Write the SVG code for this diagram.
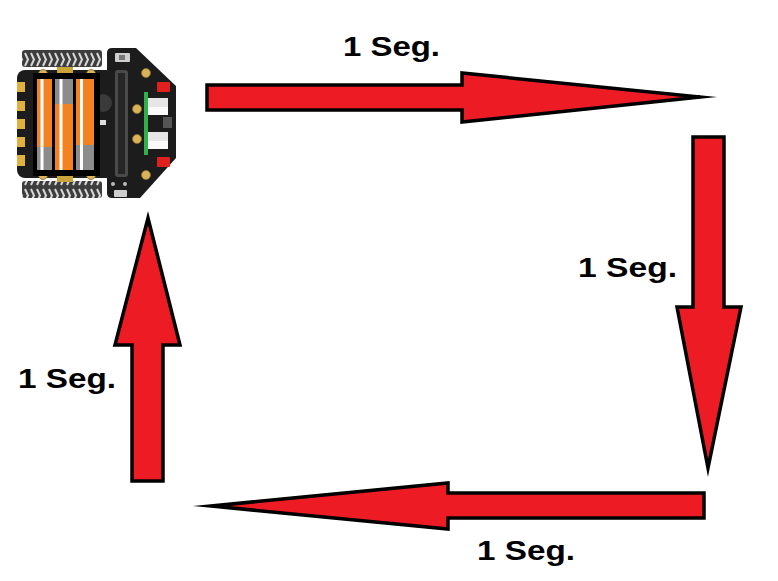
<svg xmlns="http://www.w3.org/2000/svg" width="778" height="581" viewBox="0 0 778 581">
<style>
.arrow{fill:#ed1c24;stroke:#000;stroke-width:3.5;stroke-linejoin:miter;stroke-miterlimit:20}
.lbl{font-family:"Liberation Sans",Arial,sans-serif;font-weight:bold;font-size:27px;fill:#000}
.gold{fill:#d9b25a;stroke:#8a6d2a;stroke-width:0.8}
.pin{fill:#e0b040}
.orange{fill:#f58220}
.gray{fill:#8c8c8c}
.white{fill:#ffffff}
</style>
<defs>
<pattern id="tread" width="6" height="17" patternUnits="userSpaceOnUse">
<rect width="6" height="17" fill="#3d3d3d"/>
<path d="M1 2 L4 8.5 L1 15" fill="none" stroke="#d8d8d8" stroke-width="2"/>
</pattern>
</defs>
<rect width="778" height="581" fill="#fff"/>
<g id="robot">
<rect x="22" y="50" width="80" height="17" rx="3" fill="url(#tread)"/>
<rect x="22" y="181" width="80" height="17" rx="3" fill="url(#tread)"/>
<rect x="17" y="70" width="100" height="108" rx="8" fill="#1c1c1c"/>
<path d="M112 48 L136 48 L176 86 L176 158 L140 198 L112 198 Q107 198 107 193 L107 53 Q107 48 112 48 Z" fill="#1c1c1c"/>
<rect class="pin" x="17" y="82" width="8" height="10"/>
<rect class="pin" x="17" y="101" width="8" height="10"/>
<rect class="pin" x="17" y="119" width="8" height="10"/>
<rect class="pin" x="17" y="137" width="8" height="10"/>
<rect class="pin" x="17" y="155" width="8" height="11"/>
<circle class="gold" cx="43" cy="74" r="4.5"/>
<circle class="gold" cx="91" cy="74" r="4.5"/>
<circle class="gold" cx="43" cy="175" r="4.5"/>
<circle class="gold" cx="91" cy="175" r="4.5"/>
<circle class="gold" cx="146" cy="73" r="4.5"/>
<circle class="gold" cx="137" cy="109" r="4.5"/>
<circle class="gold" cx="137" cy="139" r="4.5"/>
<circle class="gold" cx="146" cy="175" r="4.5"/>
<rect x="57" y="67" width="16" height="8" fill="#c9a53a"/>
<rect x="57" y="174" width="16" height="8" fill="#c9a53a"/>
<circle cx="103" cy="103" r="9" fill="#3a3a3a"/>
<rect x="100" y="120" width="6" height="5" fill="#ddd"/>
<rect x="33" y="73" width="67" height="103" fill="#000"/>
<rect class="orange" x="37" y="79" width="15" height="68"/>
<rect class="gray" x="37" y="147" width="15" height="23"/>
<rect class="white" x="40.5" y="79" width="3" height="91"/>
<rect class="gray" x="55" y="79" width="18" height="25"/>
<rect class="orange" x="55" y="104" width="18" height="66"/>
<rect class="white" x="59.5" y="79" width="3" height="91"/>
<rect class="orange" x="76" y="79" width="18" height="66"/>
<rect class="gray" x="76" y="145" width="18" height="25"/>
<rect class="white" x="80" y="79" width="3" height="91"/>
<rect x="115" y="53" width="15" height="9" rx="1" fill="#cfcfcf"/>
<rect x="119" y="55" width="6" height="5" fill="#777"/>
<circle cx="113" cy="184" r="2" fill="#bbb"/>
<circle cx="125" cy="184" r="2" fill="#bbb"/>
<rect x="114" y="190" width="13" height="7" rx="1" fill="#cfcfcf"/>
<rect x="115" y="70" width="13" height="107" rx="3" fill="#4a4a4a"/>
<rect x="118" y="73" width="7" height="101" fill="#262626"/>
<rect x="157" y="82" width="13" height="10" rx="1" fill="#e0201c"/>
<rect x="157" y="157" width="13" height="10" rx="1" fill="#e0201c"/>
<rect x="144" y="92" width="4" height="63" fill="#2eb24a"/>
<rect x="148" y="98" width="20" height="9" fill="#e6e6e6"/>
<rect x="148" y="107" width="20" height="8" fill="#fafafa"/>
<rect x="148" y="132" width="20" height="9" fill="#e6e6e6"/>
<rect x="148" y="141" width="20" height="8" fill="#fafafa"/>
<rect x="163" y="117" width="9" height="11" fill="#555"/>
</g>
<g id="connectors">
<polygon class="arrow" points="207,85 462,85 462,73 700,97 462,122 462,110 207,110"/>
<polygon class="arrow" points="693,137 724,137 724,307 741,307 708,468 677,307 693,307"/>
<polygon class="arrow" points="704,493 448,493 448,483 211,506 448,529 448,518 704,518"/>
<polygon class="arrow" points="132,481 163,481 163,345 180,345 148,218 115,345 132,345"/>
</g>
<g id="labels">
<text class="lbl" x="343" y="56" textLength="97" lengthAdjust="spacingAndGlyphs">1 Seg.</text>
<text class="lbl" x="578" y="277" textLength="99" lengthAdjust="spacingAndGlyphs">1 Seg.</text>
<text class="lbl" x="477" y="560" textLength="98" lengthAdjust="spacingAndGlyphs">1 Seg.</text>
<text class="lbl" x="18" y="388" textLength="98" lengthAdjust="spacingAndGlyphs">1 Seg.</text>
</g>
</svg>
